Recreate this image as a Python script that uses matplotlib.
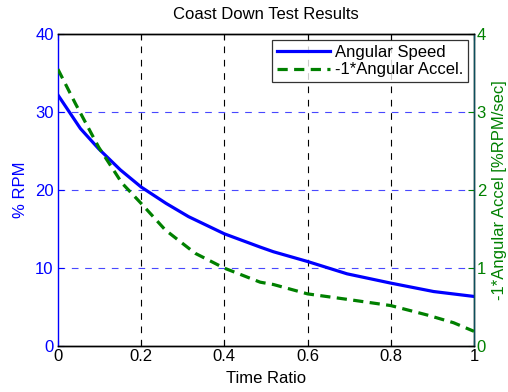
import matplotlib
matplotlib.use("Agg")
import matplotlib.pyplot as plt

plt.rcParams['font.family'] = ['Liberation Sans', 'DejaVu Sans']

t_speed = [0.0, 0.054, 0.098, 0.15, 0.2, 0.26, 0.314, 0.4, 0.486, 0.518, 0.6, 0.695, 0.8, 0.903, 1.0]
speed = [32.2, 27.9, 25.3, 22.6, 20.4, 18.3, 16.6, 14.4, 12.7, 12.1, 10.85, 9.27, 8.08, 7.0, 6.37]

t_accel = [0.0, 0.042, 0.098, 0.154, 0.2, 0.258, 0.33, 0.4, 0.486, 0.518, 0.6, 0.695, 0.8, 0.887, 0.951, 1.0]
accel = [3.55, 3.11, 2.55, 2.09, 1.83, 1.49, 1.19, 1.0, 0.82, 0.79, 0.67, 0.60, 0.52, 0.40, 0.30, 0.19]

xticks = [0, 0.2, 0.4, 0.6, 0.8, 1]
xticklabels = ['0', '0.2', '0.4', '0.6', '0.8', '1']
yticks_left = [0, 10, 20, 30, 40]
yticks_right = [0, 1, 2, 3, 4]

BLUE = '#0000ff'
GREEN = '#008000'

fig = plt.figure(figsize=(5.08, 3.92), dpi=100)
ax = fig.add_axes([0.114, 0.117, 0.819, 0.796])
ax2 = ax.twinx()

l1, = ax.plot(t_speed, speed, color=BLUE, lw=2.3, zorder=3)
l2, = ax2.plot(t_accel, accel, color=GREEN, lw=2.3, ls=(0, (3.2, 2.0)), zorder=3)

ax.set_xlim(0, 1)
ax.set_ylim(0, 40)
ax2.set_ylim(0, 4)

ax.set_xticks(xticks)
ax.set_xticklabels(xticklabels)
ax.set_yticks(yticks_left)
ax2.set_yticks(yticks_right)

# grid
for x in xticks[1:-1]:
    ax.axvline(x, color='black', lw=0.8, ls=(0, (6, 6)), zorder=1)
for y in yticks_left[1:-1]:
    ax.axhline(y, color='#4848ff', lw=0.8, ls=(0, (6, 6)), zorder=1)

fs = 12
ax.tick_params(axis='x', direction='in', top=True, length=4, labelsize=fs, colors='black', pad=2)
ax.tick_params(axis='y', direction='in', length=4, labelsize=fs, colors=BLUE, pad=3)
ax2.tick_params(axis='y', direction='in', length=4, labelsize=fs, colors=GREEN, pad=2)

ax.spines['left'].set_color(BLUE)
ax.spines['top'].set_color('black')
ax.spines['bottom'].set_color('black')
ax2.spines['right'].set_color('#0b4f5c')
ax2.spines['left'].set_visible(False)
ax2.spines['top'].set_color('black')
ax2.spines['bottom'].set_color('black')
for sp in list(ax.spines.values()) + list(ax2.spines.values()):
    sp.set_linewidth(1.0)

ax.set_title('Coast Down Test Results', fontsize=fs, pad=11)
ax.set_xlabel('Time Ratio', fontsize=fs, labelpad=5)
ax.set_ylabel('% RPM', fontsize=fs, color=BLUE, labelpad=5)
ax2.set_ylabel('-1*Angular Accel [%RPM/sec]', fontsize=fs, color=GREEN, labelpad=4)

leg = ax2.legend([l1, l2], ['Angular Speed', '-1*Angular Accel.'], loc='upper right',
                 fontsize=fs, frameon=True, fancybox=False, edgecolor='black',
                 handlelength=3.2, handletextpad=0.3, borderpad=0.3, labelspacing=0.15,
                 borderaxespad=0.35)
leg.get_frame().set_linewidth(0.9)

fig.savefig('out.png', dpi=100)
